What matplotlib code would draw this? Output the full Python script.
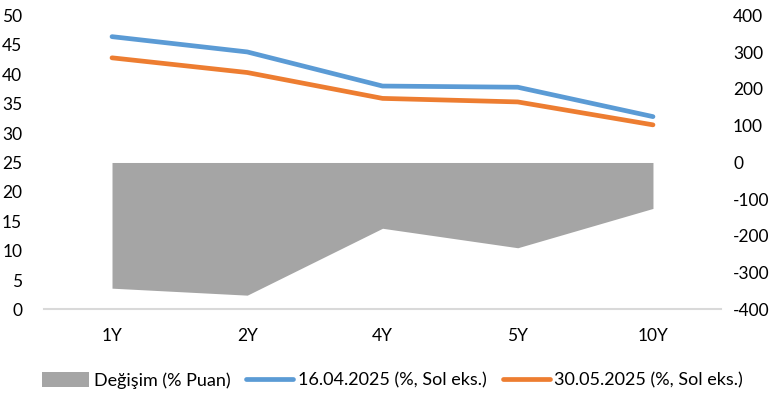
import matplotlib
matplotlib.use("Agg")
import matplotlib.pyplot as plt
from matplotlib.patches import Patch
from matplotlib.lines import Line2D

plt.rcParams['font.family'] = ['Lato', 'DejaVu Sans']
plt.rcParams['axes.unicode_minus'] = False

categories = ["1Y", "2Y", "4Y", "5Y", "10Y"]
yield_1604 = [46.4, 43.8, 38.0, 37.8, 32.8]
yield_3005 = [42.8, 40.3, 35.9, 35.3, 31.4]
change_bp = [-342, -361, -179, -232, -125]

left_ticks = list(range(0, 51, 5))
right_ticks = list(range(-400, 401, 100))

blue = "#5b9bd5"
orange = "#ed7d31"
gray = "#a5a5a5"
fs = 12.5

fig = plt.figure(figsize=(7.76, 3.94), dpi=100)
ax = fig.add_axes([0.0572, 0.2145, 0.8714, 0.7462])
ax2 = ax.twinx()

x = list(range(len(categories)))

# change area on the right axis, drawn behind the yield lines
ax2.fill_between(x, 0, change_bp, color=gray, linewidth=0)
ax2.set_ylim(-400, 400)
ax2.set_yticks(right_ticks)

ax.set_zorder(ax2.get_zorder() + 1)
ax.patch.set_visible(False)

ax.plot(x, yield_1604, color=blue, lw=3.4, solid_capstyle='round', solid_joinstyle='round')
ax.plot(x, yield_3005, color=orange, lw=3.4, solid_capstyle='round', solid_joinstyle='round')
ax.set_ylim(0, 50)
ax.set_yticks(left_ticks)
ax.set_xlim(-0.5, len(categories) - 0.5)
ax.set_xticks(x)
ax.set_xticklabels(categories)

for a in (ax, ax2):
    for s in a.spines.values():
        s.set_visible(False)
    a.tick_params(length=0, labelsize=fs, colors="#000000")

ax.spines['bottom'].set_visible(True)
ax.spines['bottom'].set_color("#d9d9d9")
ax.spines['bottom'].set_linewidth(1.5)
ax.tick_params(axis='x', pad=13)
ax.tick_params(axis='y', pad=16)
ax2.tick_params(axis='y', pad=9)

handles = [
    Patch(facecolor=gray, edgecolor='none'),
    Line2D([0], [0], color=blue, lw=3.4, solid_capstyle='round'),
    Line2D([0], [0], color=orange, lw=3.4, solid_capstyle='round'),
]
labels = ["Değişim (% Puan)", "16.04.2025 (%, Sol eks.)", "30.05.2025 (%, Sol eks.)"]
fig.legend(handles, labels, loc='center', bbox_to_anchor=(0.506, 0.035), ncol=3,
           frameon=False, fontsize=13, handlelength=2.6, handleheight=0.9,
           handletextpad=0.25, columnspacing=0.9)

fig.savefig("out.png", dpi=100)
